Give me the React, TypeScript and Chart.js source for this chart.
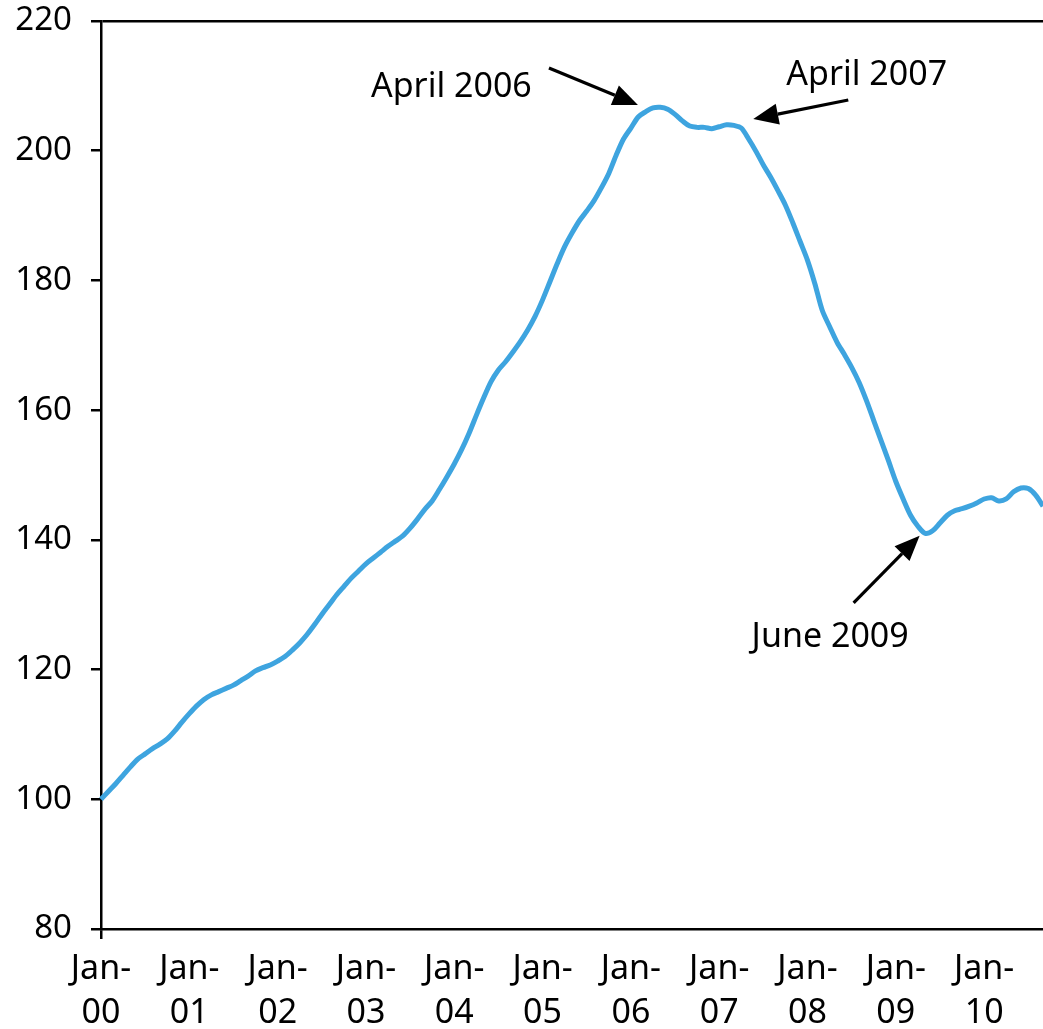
import React, { useEffect, useRef } from "react";
import { Chart, registerables } from "chart.js";

Chart.register(...registerables);

// ---- Data ----
const monthNames = ["Jan", "Feb", "Mar", "Apr", "May", "Jun", "Jul", "Aug", "Sep", "Oct", "Nov", "Dec"];
const yearCodes = ["00", "01", "02", "03", "04", "05", "06", "07", "08", "09", "10"];

const indexValues = [
  // 2000
  100.0, 101.2, 102.4, 103.7, 105.0, 106.2, 107.0, 107.8, 108.5, 109.3, 110.5, 111.9,
  // 2001
  113.2, 114.4, 115.4, 116.1, 116.6, 117.1, 117.6, 118.3, 119.0, 119.8, 120.3, 120.7,
  // 2002
  121.3, 122.0, 123.0, 124.1, 125.4, 126.9, 128.5, 130.0, 131.5, 132.8, 134.1, 135.2,
  // 2003
  136.3, 137.2, 138.1, 139.0, 139.8, 140.6, 141.8, 143.2, 144.7, 146.0, 147.8, 149.7,
  // 2004
  151.7, 153.9, 156.4, 159.2, 161.9, 164.4, 166.2, 167.5, 169.0, 170.6, 172.4, 174.5,
  // 2005
  177.0, 179.8, 182.6, 185.2, 187.3, 189.2, 190.7, 192.3, 194.3, 196.5, 199.3, 201.8,
  // 2006
  203.5, 205.2, 206.0, 206.6, 206.7, 206.4, 205.6, 204.6, 203.8, 203.6, 203.6, 203.4,
  // 2007
  203.7, 204.0, 203.9, 203.5, 201.8, 199.9, 197.8, 195.9, 193.8, 191.6, 188.9, 186.0,
  // 2008
  183.1, 179.5, 175.4, 172.9, 170.5, 168.6, 166.6, 164.3, 161.5, 158.4, 155.3, 152.2,
  // 2009
  149.0, 146.3, 143.8, 142.1, 141.0, 141.4, 142.6, 143.8, 144.5, 144.8, 145.2, 145.7,
  // 2010
  146.3, 146.5, 146.0, 146.3, 147.4, 148.0, 147.9, 146.9, 145.2,
];

const categories: string[] = [];
yearCodes.forEach((yy) => monthNames.forEach((m) => categories.push(`${m}-${yy}`)));
const monthLabels = categories.slice(0, indexValues.length);

const yTicks = [80, 100, 120, 140, 160, 180, 200, 220];

const annotationTexts = ["April 2006", "April 2007", "June 2009"];
const annotationMonths = ["Apr-06", "Apr-07", "Jun-09"];

// ---- Styling / placement (not data) ----
const FONT = "'Noto Sans', 'DejaVu Sans', sans-serif";
const LINE_COLOR = "#3ea4df";
const annotationPlacement = [
  { tip: [-15, -3], tail: [-104, -40], text: [-282, -11] },
  { tip: [12, -9], tail: [107, -28], text: [45, -43] },
  { tip: [-13, 5], tail: [-79, 72], text: [-181, 116] },
];

const annotationPlugin = {
  id: "arrowAnnotations",
  afterDatasetsDraw(chart: any) {
    const { ctx, scales } = chart;
    const xs = scales.x;
    const ys = scales.y;
    ctx.save();
    annotationTexts.forEach((txt, i) => {
      const idx = monthLabels.indexOf(annotationMonths[i]);
      const px = xs.getPixelForValue(idx);
      const py = ys.getPixelForValue(indexValues[idx]);
      const p = annotationPlacement[i];
      const tipX = px + p.tip[0];
      const tipY = py + p.tip[1];
      const tailX = px + p.tail[0];
      const tailY = py + p.tail[1];
      const ang = Math.atan2(tipY - tailY, tipX - tailX);
      const headLen = 25;
      const headHalf = 10.5;
      const baseX = tipX - headLen * Math.cos(ang);
      const baseY = tipY - headLen * Math.sin(ang);
      ctx.strokeStyle = "#000";
      ctx.fillStyle = "#000";
      ctx.lineWidth = 3.2;
      ctx.beginPath();
      ctx.moveTo(tailX, tailY);
      ctx.lineTo(baseX, baseY);
      ctx.stroke();
      ctx.beginPath();
      ctx.moveTo(tipX, tipY);
      ctx.lineTo(baseX + headHalf * Math.sin(ang), baseY - headHalf * Math.cos(ang));
      ctx.lineTo(baseX - headHalf * Math.sin(ang), baseY + headHalf * Math.cos(ang));
      ctx.closePath();
      ctx.fill();
      ctx.font = `34px ${FONT}`;
      ctx.textAlign = "left";
      ctx.textBaseline = "alphabetic";
      ctx.fillText(txt, px + p.text[0], py + p.text[1]);
    });
    ctx.restore();
  },
};

export default function App() {
  const canvasRef = useRef<HTMLCanvasElement | null>(null);

  useEffect(() => {
    document.body.style.margin = "0";
    const canvas = canvasRef.current;
    if (!canvas) return;
    const chart = new Chart(canvas, {
      type: "line",
      data: {
        labels: monthLabels,
        datasets: [
          {
            data: indexValues,
            borderColor: LINE_COLOR,
            borderWidth: 5,
            pointRadius: 0,
            pointHoverRadius: 0,
            tension: 0.3,
            fill: false,
          },
        ],
      },
      options: {
        animation: false,
        responsive: false,
        devicePixelRatio: 1,
        events: [],
        layout: { padding: { top: 21, right: 0, bottom: 0, left: 0 } },
        plugins: {
          legend: { display: false },
          tooltip: { enabled: false },
          title: { display: false },
        },
        scales: {
          x: {
            type: "category",
            offset: false,
            border: { display: true, color: "#000", width: 2.5 },
            grid: {
              display: true,
              drawOnChartArea: false,
              drawTicks: true,
              tickLength: 10,
              lineWidth: 2.5,
              color: "rgba(0,0,0,0)",
              tickColor: (c: any) => (c.index % 12 === 0 ? "#000" : "rgba(0,0,0,0)"),
            },
            ticks: {
              autoSkip: false,
              maxRotation: 0,
              minRotation: 0,
              padding: 8,
              color: "#000",
              font: { family: FONT, size: 34, lineHeight: 1.3 },
              callback: function (this: any, val: any, idx: number) {
                if (idx % 12 !== 0) return null;
                const lab = String(this.getLabelForValue(val));
                const parts = lab.split("-");
                return [parts[0] + "-", parts[1]];
              },
            },
            afterFit: (scale: any) => {
              scale.height = 100;
              scale.paddingLeft = 0;
              scale.paddingRight = 0;
            },
          },
          y: {
            type: "linear",
            min: 80,
            max: 220,
            border: { display: true, color: "#000", width: 2.5 },
            grid: {
              drawOnChartArea: true,
              drawTicks: true,
              tickLength: 10,
              lineWidth: 2.5,
              color: (c: any) => (c.tick && c.tick.value === 220 ? "#000" : "rgba(0,0,0,0)"),
              tickColor: "#000",
            },
            afterBuildTicks: (scale: any) => {
              scale.ticks = yTicks.map((v) => ({ value: v }));
            },
            ticks: {
              padding: 19,
              color: "#000",
              font: { family: FONT, size: 33 },
            },
            afterFit: (scale: any) => {
              scale.width = 101;
              scale.paddingTop = 0;
              scale.paddingBottom = 0;
            },
          },
        },
      },
      plugins: [annotationPlugin],
    });
    return () => chart.destroy();
  }, []);

  return (
    <div style={{ position: "absolute", left: 0, top: 0, width: 1043, height: 1029, background: "#fff" }}>
      <canvas ref={canvasRef} width={1043} height={1029} style={{ display: "block" }} />
    </div>
  );
}
